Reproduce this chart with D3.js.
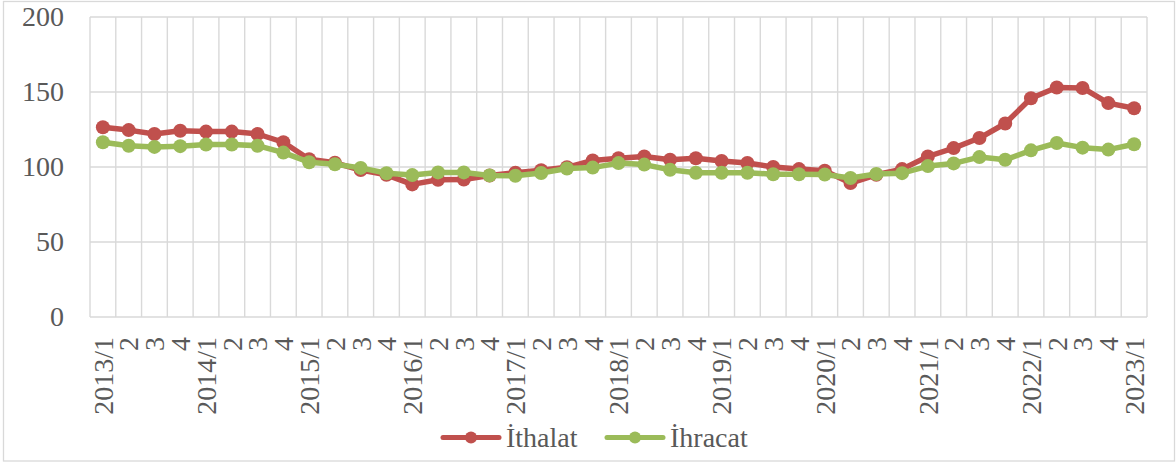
<!DOCTYPE html>
<html>
<head>
<meta charset="utf-8">
<script src="https://cdn.jsdelivr.net/npm/d3@7"></script>
</head>
<body style="margin:0">
<svg id="chart" width="1176" height="465"></svg>
<script>
// Quarterly categories, 2013 Q1 – 2023 Q1
const categories = [
  "2013/1", "2", "3", "4",
  "2014/1", "2", "3", "4",
  "2015/1", "2", "3", "4",
  "2016/1", "2", "3", "4",
  "2017/1", "2", "3", "4",
  "2018/1", "2", "3", "4",
  "2019/1", "2", "3", "4",
  "2020/1", "2", "3", "4",
  "2021/1", "2", "3", "4",
  "2022/1", "2", "3", "4",
  "2023/1"
];

// Import index (İthalat)
const ithalat = [
  126.5, 124.6, 122.0, 124.2, 123.6, 123.6, 122.0, 116.5,
  105.2, 102.8, 98.0, 94.8, 88.4, 91.5, 91.6, 94.3,
  96.2, 97.8, 99.8, 104.4, 105.8, 107.0, 104.9, 105.8,
  104.0, 102.7, 100.0, 98.6, 97.5, 89.3, 94.8, 98.6,
  107.0, 112.6, 119.3, 129.0, 145.8, 153.0, 152.7, 142.6,
  139.2
];

// Export index (İhracat)
const ihracat = [
  116.5, 114.2, 113.4, 113.9, 115.0, 115.0, 114.2, 109.6,
  103.2, 101.8, 99.4, 95.8, 94.6, 96.4, 96.4, 94.4,
  94.2, 96.0, 99.0, 99.6, 102.6, 101.6, 98.2, 96.2,
  96.2, 96.2, 95.2, 95.2, 95.0, 92.7, 95.3, 95.9,
  100.6, 102.4, 106.6, 104.8, 111.1, 116.0, 112.9, 111.6,
  115.2
];

const yTicks = [0, 50, 100, 150, 200];

const series = [
  { name: "İthalat", values: ithalat, color: "#C0504D" },
  { name: "İhracat", values: ihracat, color: "#9BBB59" }
];

const TEXT_STYLE = 'font-family: "Liberation Serif" !important; font-size: 28px !important; fill: #595959';
const svg = d3.select("#chart");
const plot = { left: 90, right: 1147, top: 17, bottom: 317 };

// Outer chart frame
svg.append("rect")
  .attr("x", 3.5).attr("y", 1.5)
  .attr("width", 1171).attr("height", 459.5)
  .attr("fill", "#fff")
  .attr("stroke", "#D9D9D9")
  .attr("stroke-width", 1.3);

const x = d3.scaleBand()
  .domain(d3.range(categories.length))
  .range([plot.left, plot.right])
  .padding(0);

const y = d3.scaleLinear()
  .domain([0, 200])
  .range([plot.bottom, plot.top]);

const grid = svg.append("g").attr("class", "grid")
  .attr("stroke", "#D9D9D9")
  .attr("stroke-width", 1.4)
  .attr("fill", "none");

// Vertical gridlines on category boundaries
const bounds = d3.range(categories.length).map(i => x(i)).concat([plot.right]);
grid.selectAll("line.v").data(bounds).join("line")
  .attr("class", "v")
  .attr("x1", d => d).attr("x2", d => d)
  .attr("y1", plot.top).attr("y2", plot.bottom);

// Horizontal gridlines
grid.selectAll("line.h").data(yTicks).join("line")
  .attr("class", "h")
  .attr("x1", plot.left).attr("x2", plot.right)
  .attr("y1", d => y(d)).attr("y2", d => y(d));

// Y axis labels
const yAxis = d3.axisLeft(y).tickValues(yTicks).tickSize(0).tickPadding(26);
const yG = svg.append("g")
  .attr("transform", `translate(${plot.left},0)`)
  .call(yAxis);
yG.attr("font-family", null).attr("font-size", null);
yG.select(".domain").remove();
yG.selectAll("text").attr("style", TEXT_STYLE);

// X axis labels, rotated
const xAxis = d3.axisBottom(x).tickFormat(i => categories[i]).tickSize(0).tickPadding(0);
const xG = svg.append("g")
  .attr("transform", `translate(0,${plot.bottom})`)
  .call(xAxis);
xG.attr("font-family", null).attr("font-size", null);
xG.select(".domain").remove();
xG.selectAll("text")
  .attr("style", TEXT_STYLE)
  .attr("text-anchor", "end")
  .attr("dy", "0.35em")
  .attr("transform", "translate(0,20) rotate(-90)")
  .attr("x", 0).attr("y", 0);

const cx = i => x(i) + x.bandwidth() / 2;

const line = d3.line()
  .x((d, i) => cx(i))
  .y(d => y(d));

const seriesG = svg.append("g").attr("class", "series");
series.forEach(s => {
  const g = seriesG.append("g");
  g.append("path")
    .datum(s.values)
    .attr("d", line)
    .attr("fill", "none")
    .attr("stroke", s.color)
    .attr("stroke-width", 5.5)
    .attr("stroke-linejoin", "round")
    .attr("stroke-linecap", "round");
  g.selectAll("circle").data(s.values).join("circle")
    .attr("cx", (d, i) => cx(i))
    .attr("cy", d => y(d))
    .attr("r", 7)
    .attr("fill", s.color);
});

// Legend
const legendY = 437.5;
const legendItems = [
  { s: series[0], x0: 443 },
  { s: series[1], x0: 607 }
];
legendItems.forEach(({ s, x0 }) => {
  svg.append("line")
    .attr("x1", x0).attr("x2", x0 + 56)
    .attr("y1", legendY).attr("y2", legendY)
    .attr("stroke", s.color)
    .attr("stroke-width", 5)
    .attr("stroke-linecap", "round");
  svg.append("circle")
    .attr("cx", x0 + 28).attr("cy", legendY)
    .attr("r", 6)
    .attr("fill", s.color);
  svg.append("text")
    .attr("x", x0 + 63)
    .attr("y", legendY)
    .attr("dy", "0.35em")
    .attr("style", TEXT_STYLE)
    .text(s.name);
});
</script>
</body>
</html>
